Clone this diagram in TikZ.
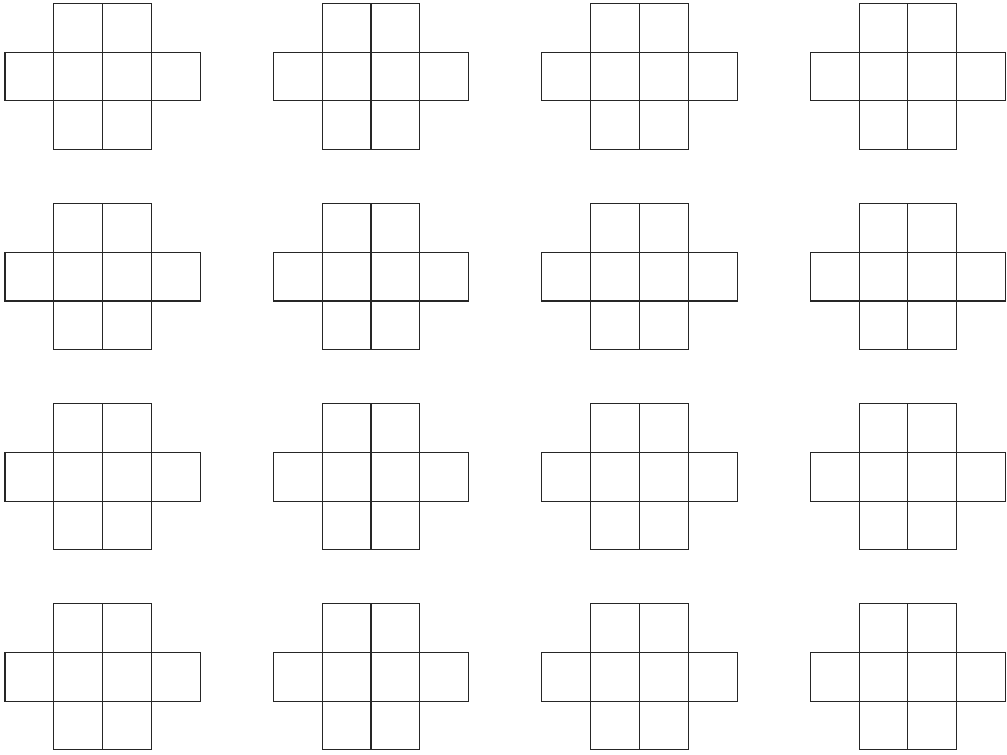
\documentclass[tikz,border=0pt]{standalone}
\usepackage{xcolor}
\usepackage{tikz}
\tikzset{crossline/.style={black!85, line width=0.6pt}}

\begin{document}
\begin{tikzpicture}[x=1cm,y=1cm]
    \useasboundingbox (0,0) rectangle (20.635,15.451);
    \foreach \col in {0,...,3}{
        \foreach \row in {0,...,3}{
            \begin{scope}[shift={({0.1025+5.5*\col},{12.383-4.1*\row})}]
                \draw[crossline] (1,0) rectangle (3,3);
                \draw[crossline] (0,1) rectangle (4,2);
                \draw[crossline] (2,0) -- (2,3);
            \end{scope}
        }
    }
\end{tikzpicture}
\end{document}
